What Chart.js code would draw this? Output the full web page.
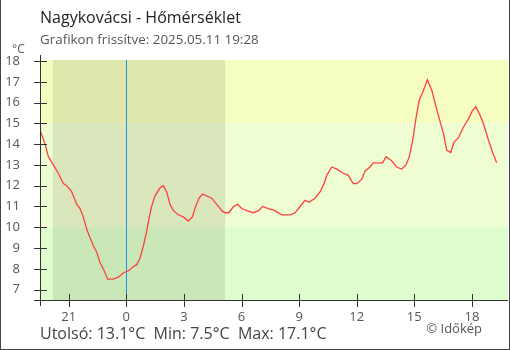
<!DOCTYPE html>
<html>
<head>
<meta charset="utf-8">
<script src="https://cdn.jsdelivr.net/npm/chart.js@4.4.0/dist/chart.umd.min.js"></script>
<style>
  html, body { margin: 0; padding: 0; background: #fff; }
  #wrap {
    position: relative; width: 510px; height: 350px; box-sizing: border-box;
    border-left: 1px solid #444; border-right: 1px solid #444; border-bottom: 1px solid #444;
    font-family: "Open Sans", sans-serif; overflow: hidden;
  }
  #wrap canvas { position: absolute; left: -1px; top: 0; }
  .txt { position: absolute; white-space: nowrap; line-height: 1; }
  #title { left: 39px; top: 9px; font-size: 16px; color: #222; }
  #sub { left: 39px; top: 33px; font-size: 13.4px; color: #555; }
  #unit { left: 11px; top: 43px; font-size: 12px; color: #555; }
  #stats { left: 39px; top: 325px; font-size: 16px; color: #444; }
  #copy { right: 27px; top: 322px; font-size: 13px; color: #555; }
</style>
</head>
<body>
<div id="wrap">
  <canvas id="chart" width="510" height="350"></canvas>
  <div class="txt" id="title">Nagykovácsi - Hőmérséklet</div>
  <div class="txt" id="sub">Grafikon frissítve: 2025.05.11 19:28</div>
  <div class="txt" id="unit">°C</div>
  <div class="txt" id="stats">Utolsó: 13.1°C&nbsp; Min: 7.5°C&nbsp; Max: 17.1°C</div>
  <div class="txt" id="copy">© Időkép</div>
</div>
<script>
// hours relative to midnight (negative = previous evening)
const hours = [
  -4.46, -4.23, -4.06, -3.80, -3.54, -3.28, -3.10, -2.84, -2.58, -2.41,
  -2.24, -2.06, -1.89, -1.71, -1.54, -1.37, -1.20, -0.97, -0.68, -0.42,
  -0.16, 0.10, 0.36, 0.54, 0.71, 0.89, 1.06, 1.20, 1.32, 1.49,
  1.76, 1.93, 2.10, 2.28, 2.45, 2.71, 2.97, 3.23, 3.44, 3.61,
  3.79, 3.98, 4.19, 4.45, 4.71, 4.97, 5.14, 5.33, 5.59, 5.80,
  6.01, 6.27, 6.61, 6.88, 7.10, 7.40, 7.74, 8.09, 8.53, 8.79,
  9.05, 9.31, 9.52, 9.83, 10.09, 10.30, 10.44, 10.70, 10.96, 11.30,
  11.56, 11.82, 12.00, 12.26, 12.43, 12.69, 12.86, 13.35, 13.53, 13.82,
  14.08, 14.34, 14.57, 14.74, 14.92, 15.08, 15.25, 15.44, 15.68, 15.91,
  16.13, 16.34, 16.52, 16.69, 16.90, 17.07, 17.29, 17.55, 17.81, 18.02,
  18.21, 18.42, 18.63, 18.86, 19.08, 19.29
];
const temps = [
  14.6, 14.0, 13.4, 13.0, 12.6, 12.1, 12.0, 11.7, 11.1, 10.9,
  10.5, 9.9, 9.5, 9.1, 8.8, 8.3, 8.0, 7.5, 7.5, 7.6,
  7.8, 7.9, 8.1, 8.2, 8.5, 9.1, 9.8, 10.5, 11.0, 11.5,
  11.9, 12.0, 11.7, 11.1, 10.8, 10.6, 10.5, 10.3, 10.5, 11.0,
  11.4, 11.6, 11.5, 11.4, 11.1, 10.8, 10.7, 10.7, 11.0, 11.1,
  10.9, 10.8, 10.7, 10.8, 11.0, 10.9, 10.8, 10.6, 10.6, 10.7,
  11.0, 11.3, 11.2, 11.4, 11.7, 12.1, 12.5, 12.9, 12.8, 12.6,
  12.5, 12.1, 12.1, 12.3, 12.7, 12.9, 13.1, 13.1, 13.4, 13.2,
  12.9, 12.8, 13.0, 13.4, 14.2, 15.2, 16.1, 16.5, 17.1, 16.6,
  15.8, 15.1, 14.5, 13.7, 13.6, 14.1, 14.3, 14.8, 15.2, 15.6,
  15.8, 15.4, 14.9, 14.2, 13.6, 13.1
];
const hourTicks = [-3, 0, 3, 6, 9, 12, 15, 18];
const tempTicks = [7, 8, 9, 10, 11, 12, 13, 14, 15, 16, 17, 18];
const bandLimits = [15, 10];      // above 15 yellow, 10-15 pale, below 10 green
const night = [-3.83, 5.14];      // sunset / sunrise
const midnight = 0;

const bgPlugin = {
  id: "bg",
  beforeDatasetsDraw(chart) {
    const { ctx, chartArea: a, scales: { x, y } } = chart;
    const yHi = y.getPixelForValue(bandLimits[0]);
    const yLo = y.getPixelForValue(bandLimits[1]);
    ctx.save();
    ctx.fillStyle = "#f5fdc1";
    ctx.fillRect(a.left, a.top, a.width, yHi - a.top);
    ctx.fillStyle = "#effdd2";
    ctx.fillRect(a.left, yHi, a.width, yLo - yHi);
    ctx.fillStyle = "#ddfdcd";
    ctx.fillRect(a.left, yLo, a.width, a.bottom - yLo);
    const n0 = x.getPixelForValue(night[0]);
    const n1 = x.getPixelForValue(night[1]);
    ctx.fillStyle = "rgba(40,40,0,0.1)";
    ctx.fillRect(n0, a.top, n1 - n0, a.height);
    const mx = Math.round(x.getPixelForValue(midnight)) + 0.5;
    ctx.strokeStyle = "#1f97e3";
    ctx.lineWidth = 1;
    ctx.beginPath();
    ctx.moveTo(mx, a.top);
    ctx.lineTo(mx, a.bottom);
    ctx.stroke();
    ctx.restore();
  },
  afterDraw(chart) {
    const { ctx, chartArea: a, scales: { x, y } } = chart;
    const ax = Math.round(a.left) + 0.5;
    const ay = Math.round(a.bottom) + 0.5;
    ctx.save();
    ctx.strokeStyle = "#333";
    ctx.lineWidth = 1;
    ctx.beginPath();
    ctx.moveTo(ax, a.top - 5);
    ctx.lineTo(ax, a.bottom + 6);
    ctx.moveTo(a.left - 6, ay);
    ctx.lineTo(a.right, ay);
    tempTicks.forEach(v => {
      const py = Math.round(y.getPixelForValue(v)) + 0.5;
      ctx.moveTo(a.left - 6, py);
      ctx.lineTo(a.left + 7, py);
    });
    hourTicks.forEach(v => {
      const px = Math.round(x.getPixelForValue(v)) + 0.5;
      ctx.moveTo(px, a.bottom - 6);
      ctx.lineTo(px, a.bottom + 7);
    });
    ctx.stroke();
    ctx.restore();
  }
};

const ctx = document.getElementById("chart").getContext("2d");
new Chart(ctx, {
  type: "line",
  data: {
    datasets: [{
      data: hours.map((h, i) => ({ x: h, y: temps[i] })),
      borderColor: "#ff4040",
      borderWidth: 1.3,
      pointRadius: 0,
      tension: 0,
      fill: false
    }]
  },
  options: {
    responsive: false,
    animation: false,
    events: [],
    layout: { padding: { top: 60, right: 2, left: 0, bottom: 0 } },
    plugins: { legend: { display: false }, tooltip: { enabled: false } },
    scales: {
      x: {
        type: "linear",
        min: -4.495,
        max: 19.88,
        grid: { display: false, drawTicks: false },
        border: { display: false },
        afterFit: s => { s.height = 50; },
        afterBuildTicks: s => { s.ticks = hourTicks.map(v => ({ value: v })); },
        ticks: {
          padding: 9,
          color: "#555",
          font: { size: 13, family: "'Open Sans', sans-serif" },
          callback: v => ((v % 24) + 24) % 24
        }
      },
      y: {
        min: 6.5,
        max: 18.05,
        grid: { display: false, drawTicks: false },
        border: { display: false },
        afterFit: s => { s.width = 40; },
        afterBuildTicks: s => { s.ticks = tempTicks.map(v => ({ value: v })); },
        ticks: {
          padding: 20,
          color: "#555",
          font: { size: 13, family: "'Open Sans', sans-serif" }
        }
      }
    }
  },
  plugins: [bgPlugin]
});
</script>
</body>
</html>
